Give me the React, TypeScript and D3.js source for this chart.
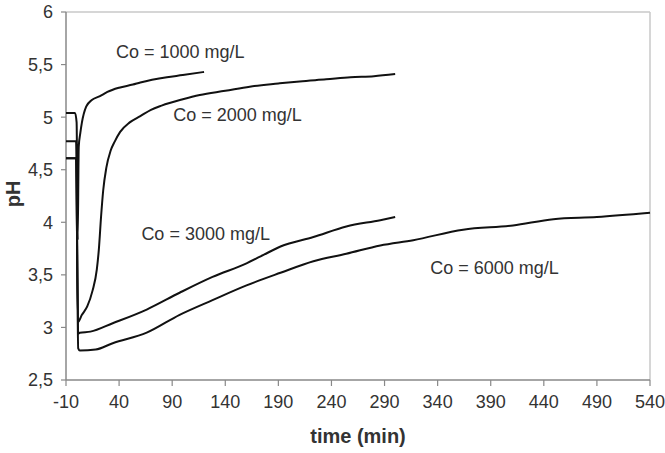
import React from "react";
import * as d3 from "d3";

const xTickValues = [-10, 40, 90, 140, 190, 240, 290, 340, 390, 440, 490, 540];
const yTickValues = [2.5, 3, 3.5, 4, 4.5, 5, 5.5, 6];
const yTickLabels = ["2,5", "3", "3,5", "4", "4,5", "5", "5,5", "6"];

const t1000 = [-10, -1.5, 0, 1, 2, 3.5, 5, 9, 14, 22, 29, 40, 53, 60, 85, 100, 120];
const ph1000 = [5.04, 5.04, 4.95, 3.83, 4.72, 4.85, 4.95, 5.1, 5.16, 5.2, 5.24, 5.28, 5.31, 5.33, 5.38, 5.4, 5.43];

const t2000 = [-10, -0.5, 1.2, 5, 10, 15, 19, 21, 23, 25, 28, 32, 36, 41, 50, 60, 70, 80, 100, 116, 140, 163, 190, 210, 235, 258, 280, 300];
const ph2000 = [4.77, 4.77, 3.05, 3.12, 3.2, 3.35, 3.55, 3.75, 4.05, 4.3, 4.52, 4.68, 4.77, 4.86, 4.95, 5.01, 5.07, 5.11, 5.17, 5.21, 5.25, 5.29, 5.32, 5.34, 5.36, 5.38, 5.39, 5.41];

const t3000 = [-10, -0.5, 1.5, 3, 13, 34, 66, 97, 128, 160, 176, 192, 223, 254, 286, 300];
const ph3000 = [4.61, 4.61, 2.94, 2.95, 2.96, 3.04, 3.17, 3.33, 3.48, 3.61, 3.69, 3.77, 3.86, 3.96, 4.02, 4.05];

const t6000 = [-10, -0.5, 1.5, 3, 18, 34, 66, 97, 128, 160, 192, 223, 254, 286, 317, 364, 411, 449, 490, 540];
const ph6000 = [4.61, 4.61, 2.8, 2.78, 2.79, 2.85, 2.95, 3.12, 3.26, 3.4, 3.52, 3.63, 3.7, 3.78, 3.83, 3.93, 3.97, 4.03, 4.05, 4.09];

const seriesLabels = ["Co = 1000 mg/L", "Co = 2000 mg/L", "Co = 3000 mg/L", "Co = 6000 mg/L"];
const seriesTimes = [t1000, t2000, t3000, t6000];
const seriesPH = [ph1000, ph2000, ph3000, ph6000];
// label anchor positions in data units (time, pH)
const labelTimes = [37, 91, 61, 333];
const labelPH = [5.56, 4.96, 3.83, 3.51];

const W = 665;
const H = 453;
const left = 66;
const right = 650;
const top = 12;
const bottom = 380;
const FONT = "Liberation Sans, Arial, sans-serif";

export default function App() {
  const x = d3.scaleLinear().domain([-10, 540]).range([left, right]);
  const y = d3.scaleLinear().domain([2.5, 6]).range([bottom, top]);
  const line = d3
    .line<[number, number]>()
    .x((d) => x(d[0]))
    .y((d) => y(d[1]))
    .curve(d3.curveMonotoneX);

  return (
    <svg
      width={W}
      height={H}
      style={{ position: "absolute", left: 0, top: 0, background: "#fff" }}
      fontFamily={FONT}
    >
      <rect x={0} y={0} width={W} height={H} fill="#fff" />
      {/* plot border */}
      <line x1={left} x2={right} y1={top} y2={top} stroke="#c8c8c8" strokeWidth={1.5} />
      <line x1={right} x2={right} y1={top} y2={bottom} stroke="#c8c8c8" strokeWidth={1.5} />
      {/* axes */}
      <line x1={left} x2={left} y1={top} y2={bottom} stroke="#888" strokeWidth={1.5} />
      <line x1={left} x2={right} y1={bottom} y2={bottom} stroke="#888" strokeWidth={1.5} />
      {yTickValues.map((v, i) => (
        <g key={"y" + v}>
          <line x1={left - 5} x2={left} y1={y(v)} y2={y(v)} stroke="#888" strokeWidth={1.2} />
          <text
            x={53}
            y={y(v)}
            dy="0.36em"
            textAnchor="end"
            fontSize={18}
            fill="#333"
          >
            {yTickLabels[i]}
          </text>
        </g>
      ))}
      {xTickValues.map((v) => (
        <g key={"x" + v}>
          <line x1={x(v)} x2={x(v)} y1={bottom} y2={bottom + 6} stroke="#888" strokeWidth={1.2} />
          <text x={x(v)} y={408} textAnchor="middle" fontSize={18} fill="#333">
            {v}
          </text>
        </g>
      ))}
      {/* series */}
      {seriesTimes.map((ts, i) => (
        <path
          key={"s" + i}
          d={line(ts.map((t, j) => [t, seriesPH[i][j]] as [number, number])) || ""}
          fill="none"
          stroke="#111"
          strokeWidth={2}
          strokeLinejoin="round"
        />
      ))}
      {seriesLabels.map((lab, i) => (
        <text
          key={"l" + i}
          x={x(labelTimes[i])}
          y={y(labelPH[i])}
          fontSize={18}
          fill="#333"
        >
          {lab}
        </text>
      ))}
      <text
        transform={`translate(20,194) rotate(-90)`}
        textAnchor="middle"
        fontSize={20}
        fontWeight="bold"
        fill="#333"
      >
        pH
      </text>
      <text x={358} y={443} textAnchor="middle" fontSize={20} fontWeight="bold" fill="#333">
        time (min)
      </text>
    </svg>
  );
}
